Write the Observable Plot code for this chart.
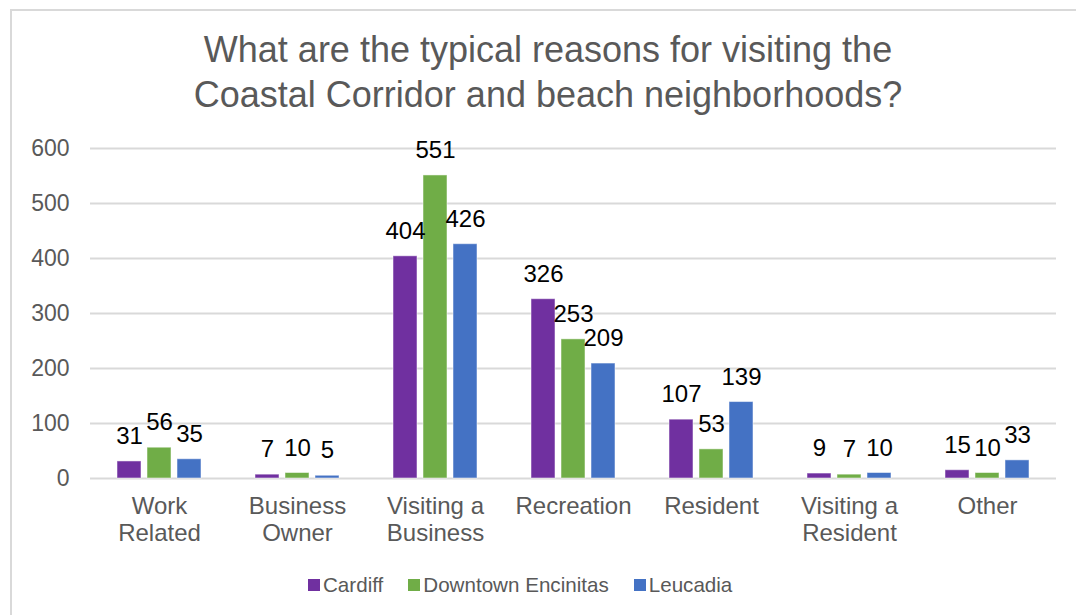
<!DOCTYPE html>
<html>
<head>
<meta charset="utf-8">
<script src="https://cdn.jsdelivr.net/npm/d3@7"></script>
<script src="https://cdn.jsdelivr.net/npm/@observablehq/plot@0.6"></script>
<style>
  html, body { margin: 0; padding: 0; background: #fff; width: 1076px; height: 615px; overflow: hidden; }
  body { position: relative; font-family: "Liberation Sans", Arial, sans-serif; }
  #frame { position: absolute; left: 10px; top: 9px; width: 1100px; height: 700px; border: 2px solid #d9d9d9; box-sizing: border-box; }
  #title { position: absolute; left: 0; top: 27px; width: 1096px; text-align: center; font-size: 36px; line-height: 45px; color: #595959; }
  #chart { position: absolute; left: 0; top: 130px; }
  #legend { position: absolute; left: 308px; top: 573px; display: flex; gap: 25px; font-size: 20.6px; color: #595959; }
  .item { display: flex; align-items: center; gap: 3px; }
  .sw { width: 12px; height: 12px; display: inline-block; }
</style>
</head>
<body>
<div id="frame"></div>
<div id="title">What are the typical reasons for visiting the<br>Coastal Corridor and beach neighborhoods?</div>
<div id="chart"></div>
<div id="legend"></div>
<script>
const categories = ["Work Related", "Business Owner", "Visiting a Business", "Recreation", "Resident", "Visiting a Resident", "Other"];
const categoryLabels = ["Work\nRelated", "Business\nOwner", "Visiting a\nBusiness", "Recreation", "Resident", "Visiting a\nResident", "Other"];
const seriesNames = ["Cardiff", "Downtown Encinitas", "Leucadia"];
const seriesColors = ["#7030A0", "#70AD47", "#4472C4"];
const cardiff = [31, 7, 404, 326, 107, 9, 15];
const downtown = [56, 10, 551, 253, 53, 7, 10];
const leucadia = [35, 5, 426, 209, 139, 10, 33];
const yTicks = [0, 100, 200, 300, 400, 500, 600];

const seriesValues = [cardiff, downtown, leucadia];
const data = [];
categories.forEach((c, i) => {
  seriesNames.forEach((s, j) => data.push({cat: c, series: s, value: seriesValues[j][i]}));
});
const labelOf = new Map(categories.map((c, i) => [c, categoryLabels[i]]));

const plot = Plot.plot({
  width: 1076,
  height: 428,
  marginLeft: 88,
  marginRight: 18,
  marginTop: 18,
  marginBottom: 80,
  style: {fontFamily: "Liberation Sans, Arial, sans-serif", fontSize: "23px", color: "#595959", background: "transparent"},
  fx: {domain: categories, padding: 0, label: null, axis: null},
  x: {domain: seriesNames, axis: null, paddingInner: 0.21, paddingOuter: 0.88},
  y: {domain: [0, 600], ticks: yTicks, tickSize: 0, tickPadding: 21, label: null},
  color: {domain: seriesNames, range: seriesColors},
  marks: [
    Plot.ruleY(yTicks, {stroke: "#d9d9d9", strokeWidth: 2}),
    Plot.barY(data, {fx: "cat", x: "series", y: "value", fill: "series", stroke: "white", strokeOpacity: 0.5, strokeWidth: 1}),
    Plot.text(data, {fx: "cat", x: "series", y: "value", text: d => String(d.value), dy: -25, fill: "black", fontSize: 24}),
    Plot.axisFx({anchor: "bottom", tickSize: 0, tickPadding: 17, fontSize: 24, lineHeight: 1.1, tickFormat: d => labelOf.get(d), label: null, fill: "#595959"})
  ]
});
document.getElementById("chart").appendChild(plot);

const legend = document.getElementById("legend");
seriesNames.forEach((s, i) => {
  const it = document.createElement("div");
  it.className = "item";
  const sw = document.createElement("span");
  sw.className = "sw";
  sw.style.background = seriesColors[i];
  const t = document.createElement("span");
  t.textContent = s;
  it.appendChild(sw);
  it.appendChild(t);
  legend.appendChild(it);
});
</script>
</body>
</html>
